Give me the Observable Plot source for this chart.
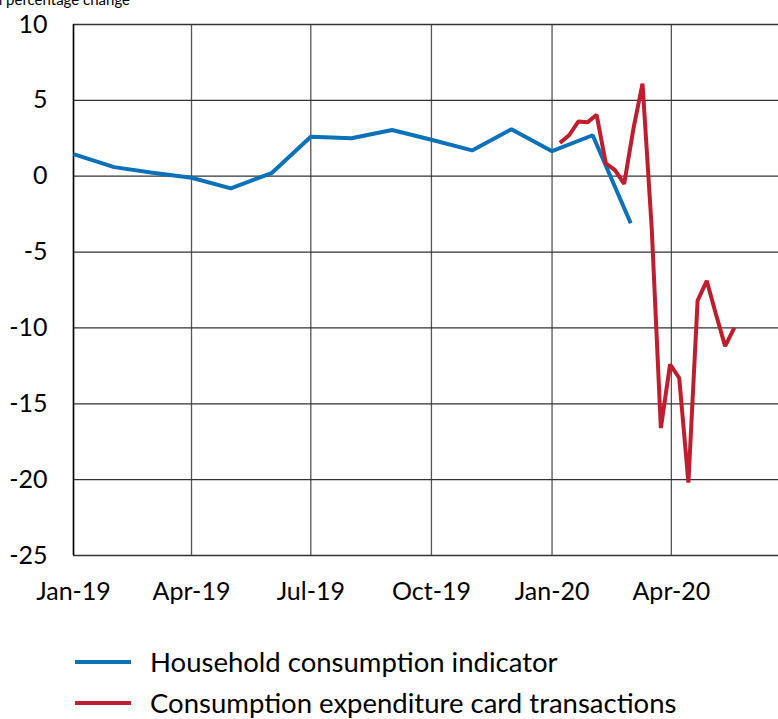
<!DOCTYPE html>
<html>
<head>
<meta charset="utf-8">
<script src="https://cdn.jsdelivr.net/npm/d3@7"></script>
<script src="https://cdn.jsdelivr.net/npm/@observablehq/plot@0.6"></script>
<style>
  html, body { margin: 0; padding: 0; background: #fff; overflow: hidden; }
  body { position: relative; width: 778px; height: 719px; overflow: hidden; font-family: Lato, sans-serif; color: #000; }
  #unit { position: absolute; right: 648px; top: -10px; white-space: nowrap; font-size: 15px; }
  #chart { position: absolute; left: 0; top: 0; width: 778px; height: 615px; overflow: hidden; }
  #chart svg { overflow: hidden; }
  #legend { position: absolute; left: 75px; top: 641px; font-size: 27.5px; }
  .row { display: flex; align-items: center; height: 41px; }
  .sw { width: 56px; height: 4px; margin-right: 19px; }
</style>
</head>
<body>
<div id="chart"></div>
<div id="unit">Annual percentage change</div>
<div id="legend"></div>
<script>
// ---- data ----
const seriesNames = ["Household consumption indicator", "Consumption expenditure card transactions"];
const seriesColors = ["#0B72BA", "#BE1E2D"];

const householdDates = ["2019-01-01","2019-02-01","2019-03-01","2019-04-01","2019-05-01","2019-06-01",
  "2019-07-01","2019-08-01","2019-09-01","2019-10-01","2019-11-01","2019-12-01",
  "2020-01-01","2020-02-01","2020-03-01"];
const householdValues = [1.45, 0.6, 0.25, -0.1, -0.8, 0.2, 2.6, 2.5, 3.05, 2.4, 1.7, 3.1, 1.65, 2.7, -3.1];

const cardDates = ["2020-01-07","2020-01-14","2020-01-21","2020-01-28","2020-02-04","2020-02-11",
  "2020-02-18","2020-02-25","2020-03-03","2020-03-10","2020-03-17","2020-03-24","2020-03-31",
  "2020-04-07","2020-04-14","2020-04-21","2020-04-28","2020-05-05","2020-05-12","2020-05-19"];
const cardValues = [2.2, 2.7, 3.6, 3.55, 4.05, 0.85, 0.4, -0.5, 3.1, 6.1, -3.4, -16.6, -12.4,
  -13.3, -20.2, -8.2, -6.9, -9.1, -11.2, -10.0];

const xTickDates = ["2019-01-01","2019-04-01","2019-07-01","2019-10-01","2020-01-01","2020-04-01"];
const yTicks = [10, 5, 0, -5, -10, -15, -20, -25];
const xDomain = ["2019-01-01", "2020-06-26T07:00:00Z"];
const yDomain = [-25, 10];

// ---- build tables ----
const household = householdDates.map((d, i) => ({date: new Date(d), value: householdValues[i]}));
const card = cardDates.map((d, i) => ({date: new Date(d), value: cardValues[i]}));
const xTicks = xTickDates.map(d => new Date(d));

const chart = Plot.plot({
  width: 778,
  height: 615,
  marginTop: 24,
  marginLeft: 73,
  marginRight: -6,
  marginBottom: 60,
  style: {fontFamily: "Lato, sans-serif", fontSize: "25px", color: "#000", background: "#fff"},
  x: {type: "utc", domain: xDomain.map(d => new Date(d)), ticks: xTicks, tickFormat: d3.utcFormat("%b-%y"),
      tickSize: 0, tickPadding: 27, label: null},
  y: {domain: yDomain, ticks: yTicks, tickFormat: d => String(d).replace("−", "-"), tickSize: 0, tickPadding: 26, label: null},
  marks: [
    Plot.gridX(xTicks, {stroke: "#555", strokeOpacity: 1, strokeWidth: 1.3}),
    Plot.gridY(yTicks, {stroke: "#333", strokeOpacity: 1, strokeWidth: 1.3}),
    Plot.ruleX([xTicks[0]], {stroke: "#000", strokeWidth: 1.5}),
    Plot.lineY(household, {x: "date", y: "value", stroke: seriesColors[0], strokeWidth: 4, strokeLinejoin: "miter", strokeLinecap: "butt"}),
    Plot.lineY(card, {x: "date", y: "value", stroke: seriesColors[1], strokeWidth: 4, strokeLinejoin: "miter", strokeLinecap: "butt"})
  ]
});
document.getElementById("chart").appendChild(chart);

const legend = document.getElementById("legend");
seriesNames.forEach((name, i) => {
  const row = document.createElement("div");
  row.className = "row";
  const sw = document.createElement("div");
  sw.className = "sw";
  sw.style.background = seriesColors[i];
  const t = document.createElement("span");
  t.textContent = name;
  row.appendChild(sw);
  row.appendChild(t);
  legend.appendChild(row);
});
</script>
</body>
</html>
